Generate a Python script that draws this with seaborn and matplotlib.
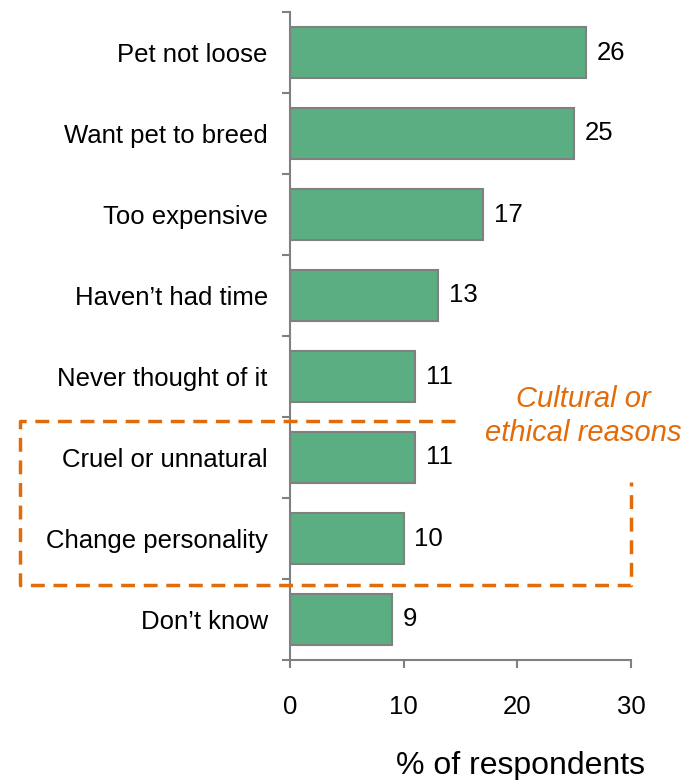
import numpy as np
import pandas as pd
import seaborn as sns
import matplotlib.pyplot as plt
from matplotlib.lines import Line2D

reasons = ["Pet not loose", "Want pet to breed", "Too expensive", "Haven\u2019t had time",
           "Never thought of it", "Cruel or unnatural", "Change personality", "Don\u2019t know"]
percent = [26, 25, 17, 13, 11, 11, 10, 9]
xticks = [0, 10, 20, 30]

df = pd.DataFrame({"reason": reasons, "pct": percent})

sns.set_style("white")
plt.rcParams["font.family"] = ["Liberation Sans", "DejaVu Sans"]
plt.rcParams["text.color"] = "black"
plt.rcParams["xtick.color"] = "black"
plt.rcParams["ytick.color"] = "black"

grey = "#808080"
orange = "#E36C0A"

fig = plt.figure(figsize=(6.84, 7.80), dpi=100)
ax = fig.add_axes([290 / 684, 1 - 660 / 780, 341 / 684, 648 / 780])

sns.barplot(data=df, x="pct", y="reason", orient="h", color="#5BAD82",
            saturation=1, width=0.64, edgecolor=grey, linewidth=1.5, ax=ax)

for i, v in enumerate(percent):
    ax.text(v + 0.95, i, str(v), va="center", ha="left", fontsize=18.5)

ax.set_xlim(0, 30)
ax.set_ylim(len(reasons) - 0.5, -0.5)
ax.set_xticks(xticks)
ax.set_xticklabels([str(t) for t in xticks], fontsize=18.5)
ax.set_yticks(np.arange(len(reasons)))
ax.set_yticklabels(reasons, fontsize=18.5)
ax.set_yticks(np.arange(len(reasons) + 1) - 0.5, minor=True)
ax.tick_params(axis="y", which="major", left=False, length=0, pad=16)
ax.tick_params(axis="y", which="minor", left=True, length=6, color=grey, width=1.5)
ax.tick_params(axis="x", bottom=True, length=6, color=grey, width=1.5, labelcolor="black", pad=19)
ax.set_xlabel("% of respondents", fontsize=23, color="black")
ax.xaxis.set_label_coords(1.04, -0.176)
ax.xaxis.label.set_ha("right")
ax.xaxis.label.set_va("baseline")
ax.set_ylabel("")

for s in ["top", "right"]:
    ax.spines[s].set_visible(False)
for s in ["left", "bottom"]:
    ax.spines[s].set_color(grey)
    ax.spines[s].set_linewidth(1.5)

# dashed box around the cultural / ethical reasons
px = [455, 20, 20, 631, 631]
py = [421, 421, 585, 585, 482]
fig.add_artist(Line2D([x / 684 for x in px], [1 - y / 780 for y in py],
                      transform=fig.transFigure, color=orange, lw=2.5,
                      ls=(0, (4, 2.5)), clip_on=False))
fig.text(583 / 684, 1 - 416 / 780, "Cultural or\nethical reasons", color=orange,
         fontsize=21, style="italic", ha="center", va="center", linespacing=1.3)

fig.savefig("out.png", dpi=100)
